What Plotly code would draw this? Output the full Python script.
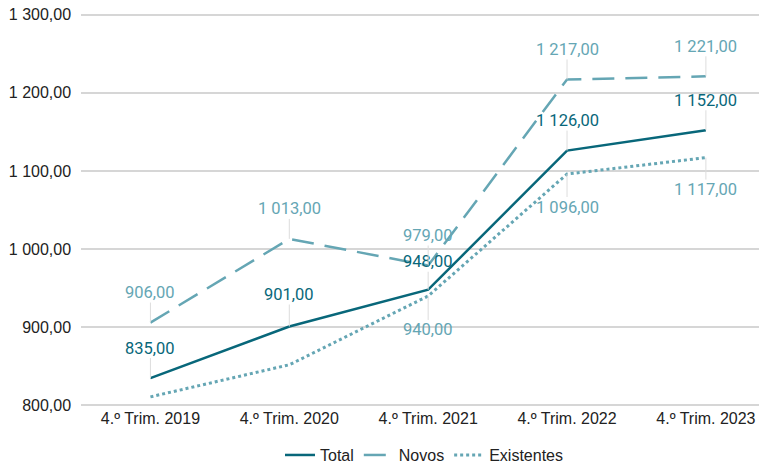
import plotly.graph_objects as go

trimestres = ["4.º Trim. 2019", "4.º Trim. 2020", "4.º Trim. 2021", "4.º Trim. 2022", "4.º Trim. 2023"]
total = [835, 901, 948, 1126, 1152]
novos = [906, 1013, 979, 1217, 1221]
existentes = [811, 852, 940, 1096, 1117]

# quais pontos levam rótulo (e de que lado)
rot_total = [-30, -32, -28, -30, -30]
rot_novos = [-30, -30, -30, -30, -30]
rot_exist = [None, None, 34, 33, 32]

cor_total = "#08677a"
cor_claro = "#65a6b4"

fig = go.Figure()
fig.add_trace(go.Scatter(x=trimestres, y=total, name="Total", mode="lines",
                         line=dict(color=cor_total, width=2.5)))
fig.add_trace(go.Scatter(x=trimestres, y=novos, name="Novos", mode="lines",
                         line=dict(color=cor_claro, width=2.5, dash="22px,11px")))
fig.add_trace(go.Scatter(x=trimestres, y=existentes, name="Existentes", mode="lines",
                         line=dict(color=cor_claro, width=3, dash="dot")))

def rotulos(xs, ys, offs, cor):
    for x, y, off in zip(xs, ys, offs):
        if off is None:
            continue
        texto = f"{y:,.2f}".replace(",", " ").replace(".", ",")
        fig.add_annotation(x=x, y=y, text=texto, showarrow=True, arrowhead=0,
                           arrowwidth=1, arrowcolor="#dddddd", ax=0, ay=off,
                           font=dict(family="Roboto", size=16.5, color=cor),
                           bgcolor="rgba(0,0,0,0)", borderpad=0)

rotulos(trimestres, total, rot_total, cor_total)
rotulos(trimestres, novos, rot_novos, cor_claro)
rotulos(trimestres, existentes, rot_exist, cor_claro)

# a página tem margem de 8px no body, por isso a figura é um pouco menor
# (range com folga para o plotly não cortar as grelhas das pontas)
fig.update_layout(
    width=759, height=455,
    margin=dict(l=73, r=0, t=5.4, b=56.4, autoexpand=False),
    paper_bgcolor="white", plot_bgcolor="white",
    separators=", ",
    font=dict(family="Liberation Sans, Arial", size=16, color="#222222"),
    showlegend=True,
    legend=dict(orientation="h", x=0.5, xanchor="center", y=-0.122, yanchor="middle",
                font=dict(size=16)),
    xaxis=dict(range=[-0.5, 4.44], showgrid=False, showline=False, ticks="",
               tickfont=dict(size=16), automargin=False),
    yaxis=dict(range=[798, 1302], dtick=100, tickformat=",.2f", showgrid=True,
               gridcolor="#d6d6d6", gridwidth=1.5, zeroline=False, showline=False,
               ticksuffix="  ", tickfont=dict(size=16), automargin=False,
               ticklabeloverflow="allow"),
)

fig.write_html("out.html")
